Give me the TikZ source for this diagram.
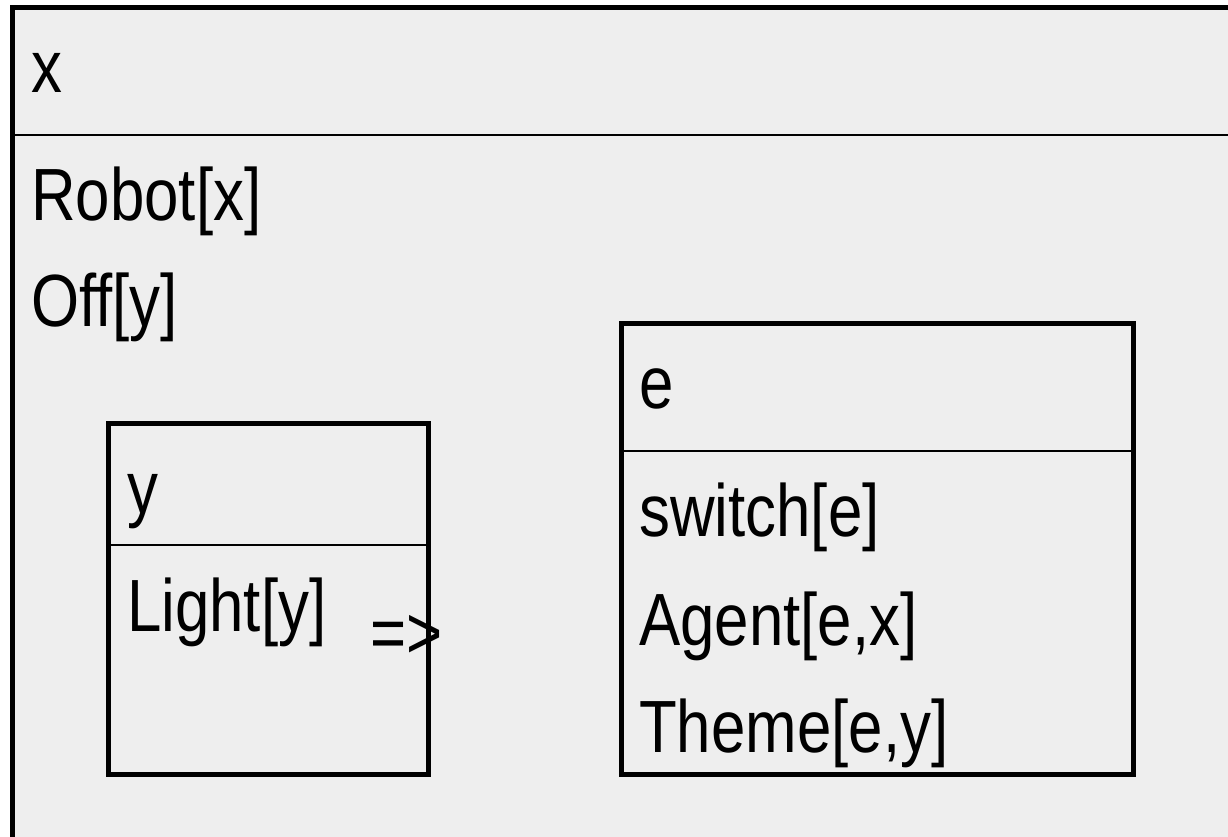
\documentclass[tikz,border=0pt]{standalone}
\usepackage{fontspec}
\setmainfont[FakeStretch=0.835]{Liberation Sans}

\definecolor{drsgray}{HTML}{EEEEEE}
\tikzset{
  drsframe/.style={line width=5pt},
  drsrule/.style={line width=2pt},
  drstext/.style={anchor=base west, inner sep=0pt, font=\fontsize{74}{88}\selectfont},
}

\begin{document}
\begin{tikzpicture}[x=1pt,y=-1pt]
\useasboundingbox (0,0) rectangle (1228,836);
\clip (0,0) rectangle (1228,836);
% outer box, open to the right and bottom
\fill[drsgray] (12,7) rectangle (1260,870);
\draw[drsframe] (12,870) -- (12,7) -- (1260,7);
\draw[drsrule] (12,135) -- (1260,135);
\node[drstext] (ux) at (31,92) {x};
\node[drstext] (robot) at (31,220) {Robot[x]};
\node[drstext] (off) at (31,326) {Off[y]};
% antecedent
\draw[drsframe] (108,423) rectangle (428,774);
\draw[drsrule] (108,545) -- (428,545);
\node[drstext] (uy) at (127,513) {y};
\node[drstext] (light) at (127,631) {Light[y]};
\node[drstext] (imp) at (370,658) {=>};
% consequent
\draw[drsframe] (621,323) rectangle (1133,774);
\draw[drsrule] (621,451) -- (1133,451);
\node[drstext] (ue) at (639,408) {e};
\node[drstext] (switch) at (639,536) {switch[e]};
\node[drstext] (agent) at (639,645) {Agent[e,x]};
\node[drstext] (theme) at (639,752) {Theme[e,y]};
\end{tikzpicture}
\end{document}
